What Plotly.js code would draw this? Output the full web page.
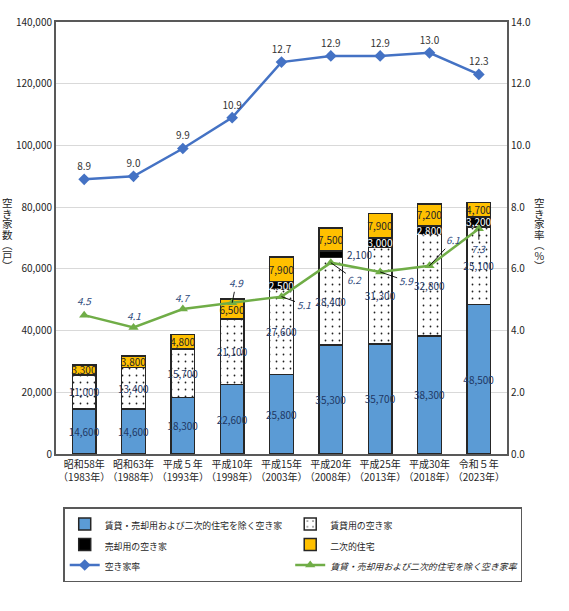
<!DOCTYPE html>
<html>
<head>
<meta charset="utf-8">
<script src="https://cdn.plot.ly/plotly-3.0.1.min.js"></script>
<style>
  body { margin: 0; background: #fff; }
  #chart { width: 569px; height: 611px; }
</style>
</head>
<body>
<div id="chart"></div>
<script>
// 調査年
var years = [
  '昭和58年<br>（1983年）', '昭和63年<br>（1988年）', '平成５年<br>（1993年）',
  '平成10年<br>（1998年）', '平成15年<br>（2003年）', '平成20年<br>（2008年）',
  '平成25年<br>（2013年）', '平成30年<br>（2018年）', '令和５年<br>（2023年）'
];

// 空き家数（戸）
var otherVacant  = [14600, 14600, 18300, 22600, 25800, 35300, 35700, 38300, 48500];
var rentalVacant = [11000, 13400, 15700, 21100, 27600, 28400, 31300, 32800, 25100];
var saleVacant   = [0, 0, 0, 0, 2500, 2100, 3000, 2800, 3200];
var secondHomes  = [3300, 3800, 4800, 6500, 7900, 7500, 7900, 7200, 4700];

// 空き家率（%）
var vacancyRate = [8.9, 9.0, 9.9, 10.9, 12.7, 12.9, 12.9, 13.0, 12.3];
var otherRate   = [4.5, 4.1, 4.7, 4.9, 5.1, 6.2, 5.9, 6.1, 7.3];

// 緑の線のラベル位置（px）: [ax, ay, 引出線あり]
var otherRateLabelPos = [
  [0, -15, false], [0, -12, false], [0, -11, false],
  [4, -20, true], [22, 8, true], [24, 17, true],
  [26, 9, true], [24, -26, true], [0, 20, true]
];

var fmt = function(v) { return v ? v.toLocaleString('en-US') : ''; };
var barLine = { color: '#262626', width: 1.5 };
var barText = { size: 10, color: '#1F3864' };

// 2008年の売却用は細いので棒の横に書く
var narrowIdx = years.indexOf('平成20年<br>（2008年）');

function legendName(s) {
  return '<span style="font-size:8.9px">' + s + '</span>';
}

var traces = [
  {
    x: years, y: otherVacant, type: 'bar', name: legendName('賃貸・売却用および二次的住宅を除く空き家'),
    marker: { color: '#5B9BD5', line: barLine },
    text: otherVacant.map(fmt), textposition: 'inside', insidetextanchor: 'middle',
    textangle: 0, constraintext: 'none', textfont: barText, hoverinfo: 'skip'
  },
  {
    x: years, y: rentalVacant, type: 'bar', name: legendName('賃貸用の空き家'),
    marker: { color: '#FFFFFF', line: barLine,
      pattern: { shape: '.', fgcolor: '#222', bgcolor: '#FFFFFF', size: 7, solidity: 0.05 } },
    text: rentalVacant.map(fmt), textposition: 'inside', insidetextanchor: 'middle',
    textangle: 0, constraintext: 'none', textfont: barText, hoverinfo: 'skip'
  },
  {
    x: years, y: saleVacant, type: 'bar', name: legendName('売却用の空き家'),
    marker: { color: '#000000', line: barLine },
    text: saleVacant.map(function(v, i) { return i === narrowIdx ? '' : fmt(v); }),
    textposition: 'inside', insidetextanchor: 'middle', textangle: 0, constraintext: 'none',
    textfont: { size: 10, color: '#FFFFFF' }, hoverinfo: 'skip'
  },
  {
    x: years, y: secondHomes, type: 'bar', name: legendName('二次的住宅'),
    marker: { color: '#FFC000', line: barLine },
    text: secondHomes.map(fmt), textposition: 'inside', insidetextanchor: 'middle',
    textangle: 0, constraintext: 'none', textfont: { size: 10, color: '#262626' }, hoverinfo: 'skip'
  },
  {
    x: years, y: vacancyRate, yaxis: 'y2', type: 'scatter', mode: 'lines+markers+text',
    name: legendName('空き家率'),
    line: { color: '#4472C4', width: 2.5 },
    marker: { symbol: 'diamond', size: 9, color: '#4472C4' },
    text: vacancyRate.map(function(v) { return v.toFixed(1); }),
    textposition: 'top center', textfont: { size: 10, color: '#333333' },
    cliponaxis: false, hoverinfo: 'skip'
  },
  {
    x: years, y: otherRate, yaxis: 'y2', type: 'scatter', mode: 'lines+markers',
    name: legendName('<i>賃貸・売却用および二次的住宅を除く空き家率</i>'),
    line: { color: '#70AD47', width: 2.5 },
    marker: { symbol: 'triangle-up', size: 9, color: '#70AD47' },
    cliponaxis: false, hoverinfo: 'skip'
  }
];

var annotations = [];

otherRate.forEach(function(v, i) {
  var p = otherRateLabelPos[i];
  var a = {
    x: years[i], y: v, xref: 'x', yref: 'y2',
    text: '<i>' + v.toFixed(1) + '</i>',
    font: { size: 10, color: '#2F4B7C' }
  };
  if (p[2]) {
    a.showarrow = true; a.arrowhead = 0; a.arrowwidth = 0.9; a.arrowcolor = '#000';
    a.ax = p[0]; a.ay = p[1]; a.standoff = 0;
  } else {
    a.showarrow = false; a.yshift = -p[1];
  }
  annotations.push(a);
});

// 2008年の売却用（棒の横）
var narrowBase = otherVacant[narrowIdx] + rentalVacant[narrowIdx];
annotations.push({
  x: years[narrowIdx], y: narrowBase + saleVacant[narrowIdx] / 2, xref: 'x', yref: 'y',
  text: fmt(saleVacant[narrowIdx]), showarrow: false, xanchor: 'left', xshift: 14,
  font: { size: 10, color: '#1F3864' }
});

// 縦書きの軸タイトル（行送りを詰める）
function verticalTitle(chars, xPaper) {
  annotations.push({
    xref: 'paper', yref: 'paper', x: xPaper, y: 0.51, xanchor: 'center', yanchor: 'middle',
    text: chars.map(function(c) {
      return '<span style="font-size:10.5px">' + c + '</span>';
    }).join('<br>'),
    showarrow: false,
    font: { size: 8.1, color: '#262626' }
  });
}
verticalTitle(['空', 'き', '家', '数', '︵', '戸', '︶'], -0.107);
verticalTitle(['空', 'き', '家', '率', '︵', '%', '︶'], 1.073);

var layout = {
  width: 569, height: 611,
  margin: { l: 56, r: 62, t: 22, b: 157 },
  paper_bgcolor: '#FFFFFF', plot_bgcolor: '#FFFFFF',
  barmode: 'stack', bargap: 0.52,
  font: { family: '"Noto Sans CJK JP", sans-serif', size: 10, color: '#262626' },
  showlegend: true,
  xaxis: {
    showline: true, linecolor: '#595959', linewidth: 2, mirror: true,
    ticks: '', tickangle: 0, tickfont: { size: 10 }, fixedrange: true
  },
  yaxis: {
    range: [0, 140000], dtick: 20000, tickformat: ',',
    showgrid: true, gridcolor: '#D9D9D9', gridwidth: 1,
    showline: true, linecolor: '#595959', linewidth: 2,
    zeroline: false, ticks: '', fixedrange: true
  },
  yaxis2: {
    overlaying: 'y', side: 'right', range: [0, 14], dtick: 2, tickformat: '.1f',
    showgrid: false, showline: true, linecolor: '#595959', linewidth: 2,
    zeroline: false, ticks: '', fixedrange: true
  },
  legend: {
    orientation: 'h', x: 0.016, xanchor: 'left', y: -0.123, yanchor: 'top',
    entrywidth: 0.5, entrywidthmode: 'fraction', traceorder: 'normal',
    itemwidth: 30,
    bordercolor: '#595959', borderwidth: 1.5, bgcolor: '#FFFFFF',
    font: { size: 13.5, color: '#262626' }
  },
  annotations: annotations
};

Plotly.newPlot('chart', traces, layout, { displayModeBar: false, staticPlot: true });
</script>
</body>
</html>
